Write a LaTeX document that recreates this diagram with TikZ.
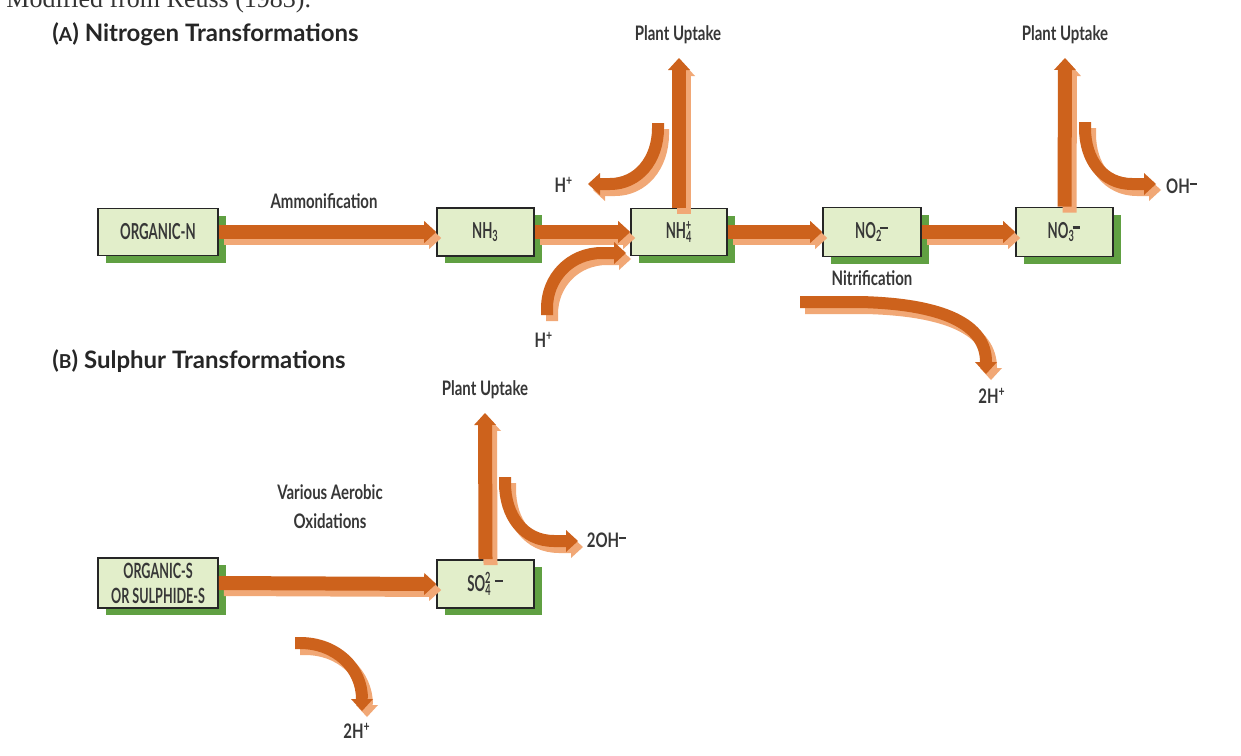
\documentclass[tikz,border=0pt]{standalone}
\usepackage{fontspec}
\usepackage{graphicx}
\setmainfont{Lato}
\newfontfamily\cond[FakeStretch=0.75]{Lato}
\newfontfamily\condb[FakeStretch=0.6]{Lato}
\newfontfamily\serifx{Liberation Serif}
\usetikzlibrary{arrows.meta,shadows}
\definecolor{boxfill}{RGB}{226,238,202}
\definecolor{shgreen}{RGB}{96,160,66}
\definecolor{darkor}{RGB}{205,98,28}
\definecolor{lightor}{RGB}{241,168,118}
\definecolor{txt}{RGB}{55,55,55}
\newcommand\subsupx[2]{\textsubscript{#1}\kern-0.3em\textsuperscript{#2}}
\newcommand\minusbar{\rule[0.2ex]{0.5em}{0.14em}}
\newcommand\flow[2][]{\draw[lightarr,#1,transform canvas={shift={(2.5pt,-3pt)}}] #2; \draw[darkarr,#1] #2;}
\begin{document}
\begin{tikzpicture}[x=0.5pt,y=-0.5pt,
 box/.style={draw=black!85, line width=0.8pt, fill=boxfill,
   general shadow={fill=shgreen, shadow xshift=4pt, shadow yshift=-3.5pt},
   font=\condb\bfseries\fontsize{11}{12}\selectfont, text=txt, inner sep=1pt, align=center},
 lbl/.style={font=\cond\bfseries\fontsize{10}{11}\selectfont, text=txt, inner sep=0pt, align=center},
 ttl/.style={font=\bfseries\fontsize{12}{14}\selectfont, text=black!85, anchor=west, inner sep=0pt},
 darkarr/.style={draw=darkor, line width=7pt, -{Triangle[width=11pt,length=6pt,line width=0pt]}},
 lightarr/.style={draw=lightor, line width=7pt, -{Triangle[width=11pt,length=6pt,line width=0pt]}},
 thin/.style={line width=6pt}
]
\clip (0,0) rectangle (1241,755);
\fill[white] (0,0) rectangle (1241,755);

\node[anchor=base west, font=\serifx\fontsize{13}{15}\selectfont, text=black!80, inner sep=0pt] (src) at (6,8) {Modified from Reuss (1983).};

\node[ttl] (ta) at (52,34) {(\scalebox{0.8}{A}) Nitrogen Transformations};
\node[ttl] (tb) at (52,361) {(\scalebox{0.8}{B}) Sulphur Transformations};

% boxes
\node[box, minimum width=60pt, minimum height=23.5pt] (orgN) at (158,232) {ORGANIC-N};
\node[box, minimum width=48.5pt, minimum height=24pt] (nh3) at (485.5,232) {NH\textsubscript{3}};
\node[box, minimum width=48pt, minimum height=23.5pt] (nh4) at (679,232) {NH\subsupx{4}{+}};
\node[box, minimum width=49pt, minimum height=24.5pt] (no2) at (872,232) {NO\textsubscript{2}\kern-0.1em\textsuperscript{\minusbar}};
\node[box, minimum width=48.5pt, minimum height=24.5pt] (no3) at (1064.5,232) {NO\textsubscript{3}\kern-0.1em\textsuperscript{\minusbar}};
\node[box, minimum width=60pt, minimum height=25pt, font=\condb\bfseries\fontsize{10.5}{12.5}\selectfont] (orgS) at (158,583) {ORGANIC-S\\OR SULPHIDE-S};
\node[box, minimum width=48.5pt, minimum height=24pt] (so4) at (485.5,584) {SO\subsupx{4}{2}\kern0.15em\textsuperscript{\minusbar}};

% free ends
\coordinate (pu1) at (679,58);
\coordinate (pu2) at (1065,58);
\coordinate (pu3) at (485,413);
\coordinate (h1s) at (658,123);
\coordinate (h1e) at (588,184);
\coordinate (h2s) at (547,315);
\coordinate (h2e) at (626,253);
\coordinate (ohs) at (1085,122);
\coordinate (ohe) at (1156,184);
\coordinate (nis) at (800,302);
\coordinate (nie) at (986,374);
\coordinate (s2s) at (505,477);
\coordinate (s2e) at (578,541);
\coordinate (s3s) at (295,643);
\coordinate (s3e) at (362,711);

% straight flows
\flow{(orgN.east) -- (nh3.west)}
\flow{(nh3.east) -- (nh4.west)}
\flow{(nh4.east) -- (no2.west)}
\flow{(no2.east) -- (no3.west)}
\flow{(orgS.east) -- (so4.west)}
\flow{(nh4.north) -- (pu1)}
\flow{(no3.north) -- (pu2)}
\flow{(so4.north) -- (pu3)}

% curved flows
\flow[thin]{(h1s) -- (658,128) .. controls (658,160) and (638,184) .. (610,184) -- (h1e)}
\flow[thin]{(h2s) -- (547,308) .. controls (547,278) and (570,253) .. (602,253) -- (h2e)}
\flow[thin]{(ohs) -- (1085,128) .. controls (1085,160) and (1103,184) .. (1132,184) -- (ohe)}
\flow[thin]{(nis) -- (860,302) .. controls (945,304) and (986,325) .. (nie)}
\flow[thin]{(s2s) -- (505,483) .. controls (505,515) and (523,541) .. (554,541) -- (s2e)}
\flow[thin]{(s3s) -- (300,643) .. controls (336,643) and (362,668) .. (s3e)}

% labels
\node[lbl] (l1) at (678,35) {Plant Uptake};
\node[lbl] (l2) at (1065,35) {Plant Uptake};
\node[lbl] (l3) at (485,390) {Plant Uptake};
\node[lbl] (l4) at (324,201) {Ammonification};
\node[lbl] (l5) at (872,278) {Nitrification};
\node[lbl, font=\cond\bfseries\fontsize{10}{14.5}\selectfont] (l6) at (330,507) {Various Aerobic\\Oxidations};
\node[lbl] (l7) at (564,185) {H\textsuperscript{+}};
\node[lbl] (l8) at (544,340) {H\textsuperscript{+}};
\node[lbl] (l9) at (1182,186) {OH\textsuperscript{\minusbar}};
\node[lbl] (l10) at (992,396) {2H\textsuperscript{+}};
\node[lbl] (l11) at (607,540) {2OH\textsuperscript{\minusbar}};
\node[lbl] (l12) at (357,731) {2H\textsuperscript{+}};
\end{tikzpicture}
\end{document}
